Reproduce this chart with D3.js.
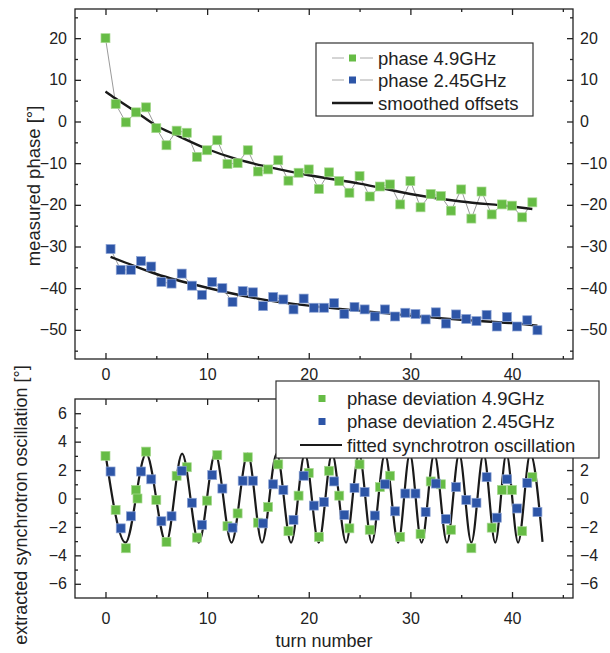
<!DOCTYPE html>
<html lang="en">
<head>
<meta charset="utf-8">
<title>measured phase and synchrotron oscillation</title>
<style>
  body { margin: 0; background: #fff; }
  svg text { font-family: "Liberation Sans", Arial, sans-serif; fill: #222; }
</style>
</head>
<body>
<script src="https://cdn.jsdelivr.net/npm/d3@7/dist/d3.min.js"></script>
<script>

    // --- top panel: measured phase per turn
    var greenTurns = [0, 1, 2, 3, 4, 5, 6, 7, 8, 9, 10, 11, 12, 13, 14, 15, 16, 17, 18, 19, 20,
        21, 22, 23, 24, 25, 26, 27, 28, 29, 30, 31, 32, 33, 34, 35, 36, 37, 38, 39, 40, 41, 42];
    var greenPhase = [20.0, 4.2, -0.2, 2.2, 3.4, -1.6, -5.7, -2.2, -2.7, -8.5, -6.9, -4.5, -10.2, -10.0,
        -6.9, -12.0, -11.5, -9.3, -14.2, -12.3, -11.5, -16.2, -12.2, -14.3, -17.1, -13.1, -18.0, -15.6,
        -15.1, -19.9, -14.3, -20.6, -17.4, -17.9, -21.4, -16.3, -23.3, -16.8, -22.3, -19.9, -20.2, -23.0, -19.4];

    var blueTurns = [0.5, 1.5, 2.5, 3.5, 4.5, 5.5, 6.5, 7.5, 8.5, 9.5, 10.5, 11.5, 12.5, 13.5, 14.5,
        15.5, 16.5, 17.5, 18.5, 19.5, 20.5, 21.5, 22.5, 23.5, 24.5, 25.5, 26.5, 27.5, 28.5, 29.5, 30.5,
        31.5, 32.5, 33.5, 34.5, 35.5, 36.5, 37.5, 38.5, 39.5, 40.5, 41.5, 42.5];
    var bluePhase = [-30.6, -35.6, -35.6, -33.5, -34.8, -38.5, -38.9, -36.5, -39.4, -41.6,
        -38.5, -40.0, -43.3, -40.7, -41.0, -44.3, -42.1, -42.7, -45.1, -42.5,
        -44.7, -44.7, -43.6, -46.2, -44.5, -45.1, -46.8, -45.1, -46.8, -45.9,
        -46.2, -47.5, -45.8, -48.5, -46.3, -47.4, -47.9, -46.4, -49.2, -46.9,
        -49.2, -47.7, -50.1];

    // smoothed offsets
    var smoothGreenTurns = [0, 1, 3, 5, 7, 10, 13, 16, 20, 25, 30, 35, 40, 42];
    var smoothGreen = [7.2, 5.5, 2.3, -1.0, -3.3, -6.6, -9.1, -10.9, -12.9, -14.9, -17.4, -19.2, -20.4, -21.0];
    var smoothBlueTurns = [0.5, 2, 5, 10, 15, 20, 25, 30, 35, 40, 42.5];
    var smoothBlue = [-32.5, -33.9, -36.6, -39.9, -42.5, -44.2, -45.4, -46.6, -47.6, -48.4, -49.0];

    // --- bottom panel: extracted oscillation
    var devGreenTurns = [0, 1, 2, 3, 3.15, 4, 5, 6, 7, 8, 9, 10, 11, 12, 13, 14, 15, 16, 17, 18, 19, 20,
        21, 22, 23, 24, 25, 26, 27, 28, 29, 31, 32, 33, 34, 36, 38, 39, 40, 41, 42];
    var devGreen = [3.0, -0.8, -3.5, 0.6, 0.0, 3.3, -0.1, -3.05, 1.6, 2.2, -2.75, -0.15, 3.05, -1.95,
        -1.05, 2.9, -1.7, -0.6, 2.4, -2.3, 0.2, 1.8, -2.7, 1.95, 0.2, -2.1, 2.4, -2.2, 0.8, 1.6, -2.7,
        -2.5, 1.2, 1.0, -2.2, -3.5, -2.05, 0.6, 0.6, -2.3, 1.5];
    var devBlue = [1.9, -2.1, -1.25, 1.9, 1.35, -1.6, -1.25, 1.95, -0.3, -1.85,
        1.65, 0.7, -2.05, 1.25, 1.25, -1.75, 1.0, 0.6, -1.5, 1.6,
        -0.5, -0.25, 1.2, -1.15, 0.75, 0.45, -1.2, 1.0, -0.9, 0.35,
        0.35, -0.95, 1.05, -1.45, 0.8, -0.1, -0.3, 1.5, -1.35, 1.35,
        -0.7, 1.1, -0.95];

    // fitted oscillation: turning points
    var fitTurns = [0, 1.97, 4.0, 5.97, 7.54, 9.18, 10.8, 12.4, 14.0, 15.4, 16.85, 18.26, 19.62, 20.98,
        22.3, 23.67, 24.95, 26.2, 27.5, 28.8, 29.95, 31.1, 32.35, 33.6, 34.8, 36.0, 37.2, 38.35,
        39.45, 40.6, 41.8, 43.0];
    var fitValue = [3.15, -3.1, 3.15, -3.1, 3.15, -3.1, 3.15, -3.1, 3.15, -3.1, 3.15, -3.1, 3.15, -3.1,
        3.15, -3.1, 3.15, -3.1, 3.15, -3.1, 3.15, -3.1, 3.15, -3.1, 3.15, -3.1, 3.15, -3.1,
        3.15, -3.1, 3.15, -3.05];

    var xMajor = [0, 10, 20, 30, 40],
        xMinor = [5, 15, 25, 35, 45];
    var topMajor = [-50, -40, -30, -20, -10, 0, 10, 20],
        topMinor = [-55, -45, -35, -25, -15, -5, 5, 15, 25];
    var botMajor = [-6, -4, -2, 0, 2, 4, 6],
        botMinor = [-5, -3, -1, 1, 3, 5];

    var green = "#66bc45",
        blue = "#2d55a7";

    var width = 610,
        height = 653;

    var svg = d3.select("body").append("svg")
        .attr("width", width)
        .attr("height", height);

    var x = d3.scaleLinear().domain([-3, 46]).range([75, 573]);
    var yTop = d3.scaleLinear().domain([-57, 27]).range([359, 9]);
    var yBot = d3.scaleLinear().domain([-7, 7]).range([598, 399]);

    function ticks(axis, tx, ty, values, size, pad, labels) {
        var g = svg.append("g")
            .attr("transform", "translate(" + tx + "," + ty + ")")
            .call(axis.tickValues(values).tickSizeInner(-size).tickSizeOuter(0).tickPadding(pad)
                .tickFormat(labels ? d3.format("d") : ""));
        g.select(".domain").remove();
        g.selectAll("line").attr("stroke", "#222").attr("stroke-width", 1.3);
        g.selectAll("text").style("font-size", "16px").attr("fill", "#222");
        return g;
    }

    function panelAxes(y, major, minor, bottomLabels, bottomPad) {
        var y0 = y.range()[0], y1 = y.range()[1];
        ticks(d3.axisBottom(x), 0, y0, xMajor, 6, bottomPad, bottomLabels);
        ticks(d3.axisBottom(x), 0, y0, xMinor, 3, 0, false);
        ticks(d3.axisTop(x), 0, y1, xMajor, 6, 0, false);
        ticks(d3.axisTop(x), 0, y1, xMinor, 3, 0, false);
        ticks(d3.axisLeft(y), 75, 0, major, 6, 8, true);
        ticks(d3.axisLeft(y), 75, 0, minor, 3, 0, false);
        ticks(d3.axisRight(y), 573, 0, major, 6, 7, true);
        ticks(d3.axisRight(y), 573, 0, minor, 3, 0, false);
        svg.append("rect")
            .attr("x", 75).attr("y", y1)
            .attr("width", 573 - 75).attr("height", y0 - y1)
            .attr("fill", "none")
            .attr("stroke", "#222")
            .attr("stroke-width", 1.3);
    }

    function squares(xs, ys, y, color, edge) {
        svg.append("g").selectAll("rect")
            .data(xs)
            .enter()
            .append("rect")
            .attr("x", function (d) { return x(d) - 4.5; })
            .attr("y", function (d, i) { return y(ys[i]) - 4.5; })
            .attr("width", 9)
            .attr("height", 9)
            .attr("fill", color)
            .attr("stroke", edge)
            .attr("stroke-width", 0.7);
    }

    function pairs(xs, ys) {
        return xs.map(function (d, i) { return [d, ys[i]]; });
    }

    // ---------- top panel
    panelAxes(yTop, topMajor, topMinor, true, 10);

    var lineTop = d3.line()
        .x(function (d) { return x(d[0]); })
        .y(function (d) { return yTop(d[1]); });

    svg.append("path").attr("d", lineTop(pairs(greenTurns, greenPhase)))
        .attr("fill", "none").attr("stroke", "#9a9a9a").attr("stroke-width", 1);
    svg.append("path").attr("d", lineTop(pairs(blueTurns, bluePhase)))
        .attr("fill", "none").attr("stroke", "#9a9a9a").attr("stroke-width", 1);

    var smoothLine = d3.line()
        .x(function (d) { return x(d[0]); })
        .y(function (d) { return yTop(d[1]); })
        .curve(d3.curveMonotoneX);

    svg.append("path").attr("d", smoothLine(pairs(smoothGreenTurns, smoothGreen)))
        .attr("fill", "none").attr("stroke", "#1a1a1a").attr("stroke-width", 2.4);
    svg.append("path").attr("d", smoothLine(pairs(smoothBlueTurns, smoothBlue)))
        .attr("fill", "none").attr("stroke", "#1a1a1a").attr("stroke-width", 2.4);

    squares(greenTurns, greenPhase, yTop, green, "#a9d993");
    squares(blueTurns, bluePhase, yTop, blue, "#8ea4d4");

    // top legend
    var lg = svg.append("g");
    lg.append("rect").attr("x", 316).attr("y", 43).attr("width", 217).attr("height", 73)
        .attr("fill", "#fff").attr("stroke", "#333").attr("stroke-width", 1.2);
    var topItems = [
        {label: "phase 4.9GHz", color: green, y: 58},
        {label: "phase 2.45GHz", color: blue, y: 80},
        {label: "smoothed offsets", color: null, y: 103}
    ];
    topItems.forEach(function (d) {
        if (d.color) {
            lg.append("line").attr("x1", 332).attr("x2", 344).attr("y1", d.y).attr("y2", d.y)
                .attr("stroke", "#aaa").attr("stroke-width", 1);
            lg.append("line").attr("x1", 360).attr("x2", 373).attr("y1", d.y).attr("y2", d.y)
                .attr("stroke", "#aaa").attr("stroke-width", 1);
            lg.append("rect").attr("x", 349).attr("y", d.y - 3.5).attr("width", 7).attr("height", 7)
                .attr("fill", d.color);
        } else {
            lg.append("line").attr("x1", 332).attr("x2", 373).attr("y1", d.y).attr("y2", d.y)
                .attr("stroke", "#1a1a1a").attr("stroke-width", 2.4);
        }
        lg.append("text").attr("x", 378).attr("y", d.y + 6.5)
            .style("font-size", "18.5px").text(d.label);
    });

    // ---------- bottom panel
    panelAxes(yBot, botMajor, botMinor, true, 15);

    var fitLine = d3.line()
        .x(function (d) { return x(d[0]); })
        .y(function (d) { return yBot(d[1]); })
        .curve(d3.curveMonotoneX);

    svg.append("path").attr("d", fitLine(pairs(fitTurns, fitValue)))
        .attr("fill", "none").attr("stroke", "#1a1a1a").attr("stroke-width", 2.2);

    squares(devGreenTurns, devGreen, yBot, green, "#a9d993");
    squares(blueTurns, devBlue, yBot, blue, "#8ea4d4");

    // bottom legend
    var lb = svg.append("g");
    lb.append("rect").attr("x", 276).attr("y", 381).attr("width", 323).attr("height", 77)
        .attr("fill", "#fff").attr("stroke", "#333").attr("stroke-width", 1.2);
    var botItems = [
        {label: "phase deviation 4.9GHz", color: green, y: 398.5},
        {label: "phase deviation 2.45GHz", color: blue, y: 421.5},
        {label: "fitted synchrotron oscillation", color: null, y: 445}
    ];
    botItems.forEach(function (d) {
        if (d.color) {
            lb.append("rect").attr("x", 318.5).attr("y", d.y - 3.5).attr("width", 7).attr("height", 7)
                .attr("fill", d.color);
        } else {
            lb.append("line").attr("x1", 300).attr("x2", 342).attr("y1", d.y).attr("y2", d.y)
                .attr("stroke", "#1a1a1a").attr("stroke-width", 2.2);
        }
        lb.append("text").attr("x", 347).attr("y", d.y + 6.5)
            .style("font-size", "18.5px").text(d.label);
    });

    // axis titles
    svg.append("text")
        .attr("transform", "translate(40,186) rotate(-90)")
        .attr("text-anchor", "middle")
        .style("font-size", "18.5px")
        .text("measured phase [°]");
    svg.append("text")
        .attr("transform", "translate(27,505) rotate(-90)")
        .attr("text-anchor", "middle")
        .style("font-size", "18px")
        .text("extracted synchrotron oscillation [°]");
    svg.append("text")
        .attr("x", 324)
        .attr("y", 647)
        .attr("text-anchor", "middle")
        .style("font-size", "18px")
        .text("turn number");

</script>
</body>
</html>
